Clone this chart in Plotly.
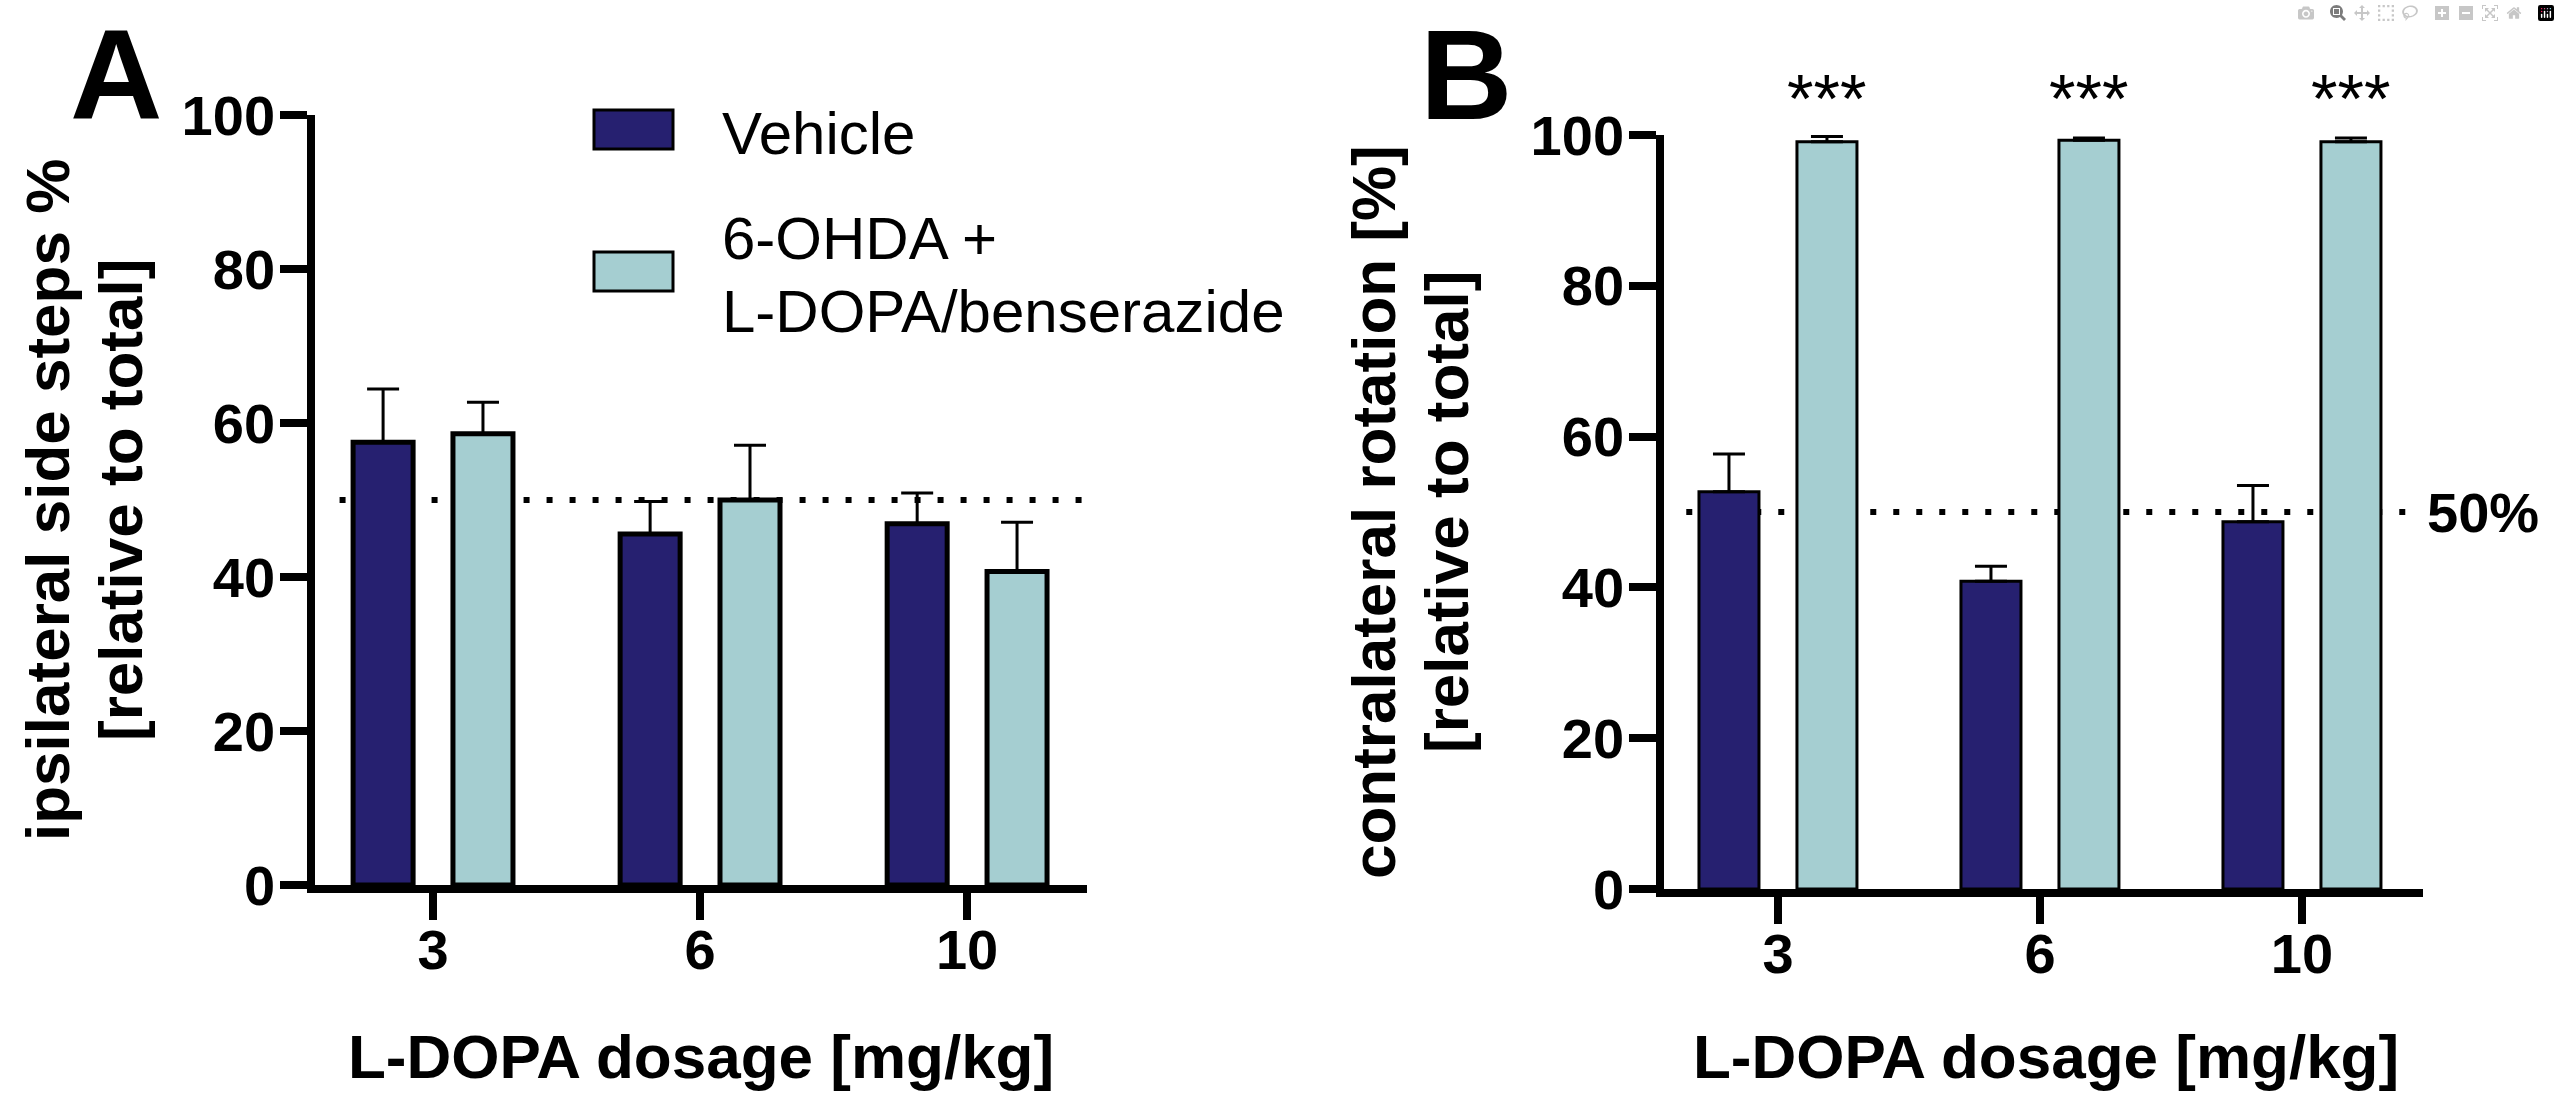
import plotly.graph_objects as go

# ---------------- data ----------------
dosages = ["3", "6", "10"]
series_names = ["Vehicle", "6-OHDA + L-DOPA/benserazide"]

a_vehicle = [57.5, 45.6, 46.9]
a_vehicle_sem = [6.9, 4.2, 4.0]
a_ohda = [58.6, 50.0, 40.7]
a_ohda_sem = [4.1, 7.1, 6.4]

b_vehicle = [52.7, 40.8, 48.7]
b_vehicle_sem = [5.0, 2.0, 4.8]
b_ohda = [99.1, 99.3, 99.1]
b_ohda_sem = [0.7, 0.3, 0.5]

y_ticks = [0, 20, 40, 60, 80, 100]
ref_level = 50
sig_labels = ["***", "***", "***"]

# ---------------- style ----------------
W, H = 2560, 1111
C_VEH = "#262070"
C_OHDA = "#A5CED1"
FONT = "Liberation Sans, Arial, sans-serif"


def px_x(p):
    return p / W


def px_y(p):
    return 1 - p / H


fig = go.Figure()


def add_bars(vals, sems, color, xa, ya, width, center, lw, name):
    fig.add_trace(go.Bar(
        x=dosages, y=vals, name=name, showlegend=False,
        width=width, offset=center - width / 2,
        marker=dict(color=color, line=dict(color="black", width=lw)),
        error_y=dict(type="data", array=sems, arrayminus=[0] * len(sems),
                     symmetric=False, color="black", thickness=3, width=16),
        xaxis=xa, yaxis=ya,
    ))


wA, wB = 0.2247, 0.229
off = 0.187
add_bars(a_vehicle, a_vehicle_sem, C_VEH, "x", "y", wA, -off, 5, series_names[0])
add_bars(a_ohda, a_ohda_sem, C_OHDA, "x", "y", wA, off, 5, series_names[1])
add_bars(b_vehicle, b_vehicle_sem, C_VEH, "x2", "y2", wB, -off, 3, series_names[0])
add_bars(b_ohda, b_ohda_sem, C_OHDA, "x2", "y2", wB, off, 3, series_names[1])

axis_common = dict(
    showline=True, linecolor="black", linewidth=7.5,
    ticks="outside", ticklen=27, tickwidth=7.5, tickcolor="black",
    showgrid=False, zeroline=False, automargin=False,
    tickfont=dict(family=FONT, size=56, color="black", weight="bold"),
)
x_common = dict(axis_common, ticklabelstandoff=-18)
y_common = dict(axis_common, ticklabelstandoff=-6)

fig.update_layout(
    width=W, height=H, autosize=False,
    margin=dict(l=0, r=0, t=0, b=0, pad=0, autoexpand=False),
    paper_bgcolor="white", plot_bgcolor="white",
    barmode="overlay", showlegend=False,
    xaxis=dict(domain=[px_x(315), px_x(1087)], range=[-0.442, 2.449],
               type="category", anchor="y", **x_common),
    yaxis=dict(domain=[px_y(885), px_y(115)], range=[0, 100],
               tickvals=y_ticks, anchor="x", **y_common),
    xaxis2=dict(domain=[px_x(1664), px_x(2423)], range=[-0.435, 2.462],
                type="category", anchor="y2", **x_common),
    yaxis2=dict(domain=[px_y(889), px_y(135)], range=[0, 100],
                tickvals=y_ticks, anchor="x2", **y_common),
)

# dotted 50% reference lines
for xr, yr in (("x", "y"), ("x2", "y2")):
    fig.add_shape(type="line", xref=xr, yref=yr, x0=-0.35, x1=2.43,
                  y0=ref_level, y1=ref_level, layer="below",
                  line=dict(color="black", width=6, dash="6px,17px"))

ann = []


def text(t, x, y, size, bold=True, xanchor="center", yanchor="middle",
         angle=0, xref="paper", yref="paper"):
    ann.append(dict(text=t, x=x, y=y, xref=xref, yref=yref, showarrow=False,
                    xanchor=xanchor, yanchor=yanchor, textangle=angle,
                    font=dict(family=FONT, size=size, color="black",
                              weight="bold" if bold else "normal")))


# panel letters
text("A", px_x(116), px_y(1), 128, yanchor="top")
text("B", px_x(1466), px_y(1), 128, yanchor="top")

# y titles
text("ipsilateral side steps %", px_x(47), px_y(500), 62, angle=-90)
text("[relative to total]", px_x(120), px_y(500), 62, angle=-90)
text("contralateral rotation [%]", px_x(1374), px_y(512), 62, angle=-90)
text("[relative to total]", px_x(1447), px_y(512), 62, angle=-90)

# x titles
text("L-DOPA dosage [mg/kg]", px_x(701), px_y(1056), 62)
text("L-DOPA dosage [mg/kg]", px_x(2046), px_y(1056), 62)

# 50% label
text(f"{ref_level}%", px_x(2425), ref_level, 56, xanchor="left", yref="y2")

# significance stars over B 6-OHDA bars
for i, s in enumerate(sig_labels):
    text(s, i + off, px_y(98), 68, bold=False, xref="x2")

# manual legend
fig.add_shape(type="rect", xref="paper", yref="paper",
              x0=px_x(594), x1=px_x(673), y0=px_y(149), y1=px_y(110),
              fillcolor=C_VEH, line=dict(color="black", width=3))
fig.add_shape(type="rect", xref="paper", yref="paper",
              x0=px_x(594), x1=px_x(673), y0=px_y(291), y1=px_y(252),
              fillcolor=C_OHDA, line=dict(color="black", width=3))
leg2 = series_names[1].split(" + ")
text(series_names[0], px_x(720), px_y(134), 60, bold=False, xanchor="left")
text(leg2[0] + " +", px_x(720), px_y(238), 60, bold=False, xanchor="left")
text(leg2[1], px_x(720), px_y(312), 60, bold=False, xanchor="left")

fig.update_layout(annotations=ann)

fig.write_html("out.html",
               post_script="document.body.style.margin='0';document.body.style.overflow='hidden';")
